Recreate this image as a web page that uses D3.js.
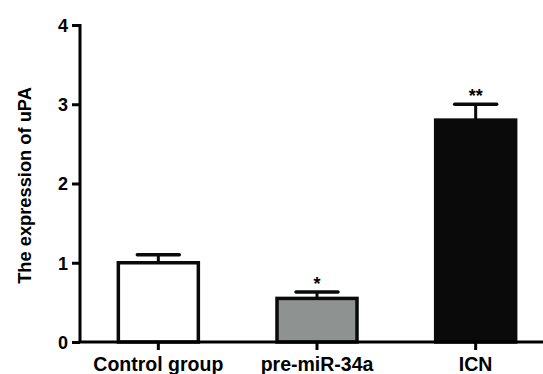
<!DOCTYPE html>
<html>
<head>
<meta charset="utf-8">
<script src="https://d3js.org/d3.v7.min.js"></script>
<style>
  body { margin: 0; background: #fff; }
  text { font-family: "Liberation Sans", Arial, sans-serif; font-weight: bold; fill: #000; }
</style>
</head>
<body>
<svg id="chart"></svg>
<script>
  var categories = ['Control group', 'pre-miR-34a', 'ICN']
  var values = [1.0, 0.55, 2.8]
  var errors = [0.1, 0.08, 0.2]
  var marks = ['', '*', '**']
  var fills = ['#ffffff', '#8e9290', '#0a0a0a']
  var yTicks = [0, 1, 2, 3, 4]

  var W = 543, H = 374
  var svg = d3.select('#chart').attr('width', W).attr('height', H)

  var x0 = 80, yTop = 25, yBot = 342
  // bands centered at ~158, 317, 476
  var x = d3.scaleBand().domain(categories).range([79, 555]).paddingInner(0.5).paddingOuter(0.25)
  var bw = 83
  var y = d3.scaleLinear().domain([0, 4]).range([yBot, yTop])

  function cx(d) { return x(d) + x.bandwidth() / 2 }

  // bars
  svg.selectAll('rect.bar').data(categories).enter().append('rect')
      .attr('class', 'bar')
      .attr('x', function (d) { return cx(d) - bw / 2 + 1.5 })
      .attr('y', function (d, i) { return y(values[i]) })
      .attr('width', bw - 3)
      .attr('height', function (d, i) { return yBot - y(values[i]) })
      .attr('fill', function (d, i) { return fills[i] })
      .attr('stroke', '#0a0a0a')
      .attr('stroke-width', 3.5)

  // error bars
  var eb = svg.selectAll('g.err').data(categories).enter().append('g')
  eb.append('line')
      .attr('x1', cx).attr('x2', cx)
      .attr('y1', function (d, i) { return y(values[i]) })
      .attr('y2', function (d, i) { return y(values[i] + errors[i]) })
      .attr('stroke', '#0a0a0a').attr('stroke-width', 3)
  eb.append('line')
      .attr('x1', function (d) { return cx(d) - 21 })
      .attr('x2', function (d) { return cx(d) + 21 })
      .attr('y1', function (d, i) { return y(values[i] + errors[i]) })
      .attr('y2', function (d, i) { return y(values[i] + errors[i]) })
      .attr('stroke', '#0a0a0a').attr('stroke-width', 3.5).attr('stroke-linecap', 'round')
  eb.append('text')
      .attr('x', cx)
      .attr('y', function (d, i) { return y(values[i] + errors[i]) - 2 })
      .attr('text-anchor', 'middle')
      .style('font-size', '18px')
      .text(function (d, i) { return marks[i] })

  // y axis
  var yAxis = d3.axisLeft(y).tickValues(yTicks).tickFormat(d3.format('d')).tickSize(8).tickPadding(4)
  var gy = svg.append('g').attr('transform', 'translate(' + x0 + ',0)').call(yAxis)
  gy.select('.domain').attr('stroke-width', 3).attr('d', 'M0,' + (yTop - 1) + 'V' + yBot)
  gy.selectAll('.tick line').attr('stroke-width', 3)
  gy.selectAll('.tick text').style('font-size', '18px').style('font-family', '"Liberation Sans", Arial, sans-serif').style('font-weight', 'bold').attr('dy', '0.35em')

  // x axis
  var xAxis = d3.axisBottom(x).tickSize(8).tickPadding(7)
  var gx = svg.append('g').attr('transform', 'translate(0,' + yBot + ')').call(xAxis)
  gx.select('.domain').attr('stroke-width', 3).attr('d', 'M' + (x0 - 1.5) + ',0H' + W)
  gx.selectAll('.tick line').attr('stroke-width', 3)
  gx.selectAll('.tick text').style('font-size', '19.5px').style('font-family', '"Liberation Sans", Arial, sans-serif').style('font-weight', 'bold')

  // y title
  svg.append('text')
      .attr('transform', 'translate(31,' + ((yTop + yBot) / 2 + 2) + ') rotate(-90)')
      .attr('text-anchor', 'middle')
      .style('font-size', '18.3px')
      .text('The expression of uPA')
</script>
</body>
</html>
